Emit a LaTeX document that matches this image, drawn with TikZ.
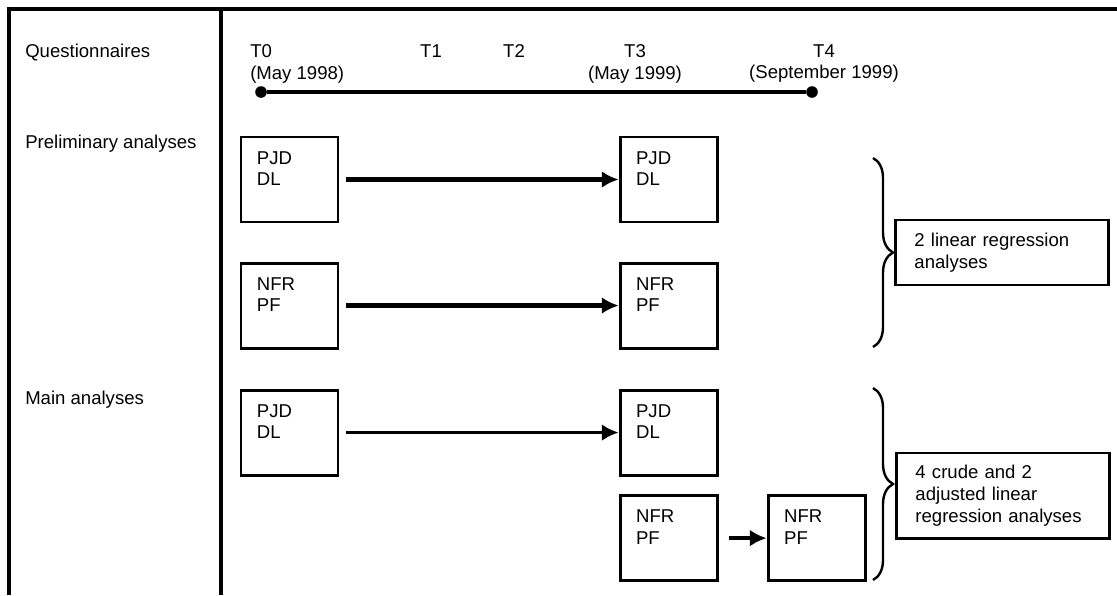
\documentclass[tikz,border=0pt]{standalone}
\usepackage{fontspec}
\setmainfont{Liberation Sans}
\usetikzlibrary{arrows.meta,decorations.pathreplacing}

\begin{document}
\begin{tikzpicture}[node distance=3.15cm, x=0.025cm, y=-0.025cm, >={Latex[length=0.42cm,width=0.42cm]}, font=\fontsize{13.2}{15.5}\selectfont]
\tikzstyle{block} = [draw, rectangle, line width=2.1pt, minimum height=2.125cm, text width=1.625cm, inner xsep=0.4cm, align=left]
\tikzstyle{result} = [draw, rectangle, line width=2.1pt, text width=4.375cm, inner xsep=0.475cm, align=left, anchor=west]
\tikzstyle{heading} = [inner sep=0, anchor=base west]
\tikzstyle{tick} = [inner sep=0, align=center]
\tikzstyle{dot} = [circle, fill, inner sep=0, minimum size=0.29cm]
\tikzstyle{frame} = [line width=2.6pt]
\tikzstyle{link} = [->, line width=3pt, shorten <=0.175cm]
\tikzstyle{curly} = [decorate, decoration={brace, amplitude=0.5cm}, line width=1.7pt]

    \useasboundingbox (0,0) rectangle (1117,595);
    % table frame
    \draw[frame] (9,595) -- (9,9) -- (1117,9);
    \draw[frame] (221,9) -- (221,595);

    % row headings
    \node[heading] (quest) at (25,57) {Questionnaires};
    \node[heading] (prelim) at (25,148) {Preliminary analyses};
    \node[heading] (mainrow) at (25,404) {Main analyses};

    % time line
    \node[tick, anchor=north west, align=left] (t0) at (250,44) {T0\\(May 1998)};
    \node[tick, anchor=base] (t1) at (431,57) {T1};
    \node[tick, anchor=base] (t2) at (514,57) {T2};
    \node[tick, anchor=north] (t3) at (635,44) {T3\\(May 1999)};
    \node[tick, anchor=north] (t4) at (824,44) {T4\\(September 1999)};
    \node[dot] (t0dot) at (261,92) {};
    \node[dot] (t4dot) at (812,92) {};
    \draw[line width=3pt] (t0dot) -- (t4dot);

    % preliminary analyses
    \node[block] (pjdA) at (289.5,179.5) {PJD\\DL\\~};
    \node[block, below of=pjdA] (nfrA) {NFR\\PF\\~};
    \node[block, right of=pjdA, node distance=9.475cm] (pjdB) {PJD\\DL\\~};
    \node[block, right of=nfrA, node distance=9.475cm] (nfrB) {NFR\\PF\\~};

    % main analyses
    \node[block, below of=nfrA, node distance=3.175cm] (pjdC) {PJD\\DL\\~};
    \node[block, right of=pjdC, node distance=9.475cm] (pjdD) {PJD\\DL\\~};
    \node[block, below of=pjdD, node distance=2.6375cm] (nfrD) {NFR\\PF\\~};
    \node[block, right of=nfrD, node distance=3.7cm] (nfrE) {NFR\\PF\\~};

    \draw[link] (pjdA) -- (pjdB);
    \draw[link] (nfrA) -- (nfrB);
    \draw[link, line width=2.3pt] (pjdC) -- (pjdD);
    \draw[link, shorten <=0.25cm] (nfrD) -- (nfrE);

    % braces and what they sum up
    \coordinate (prelimtop) at (873,158);
    \coordinate (prelimbot) at (873,347);
    \coordinate (maintop) at (873,388);
    \coordinate (mainbot) at (873,580);
    \draw[curly] (prelimtop) -- (prelimbot);
    \draw[curly] (maintop) -- (mainbot);
    \node[result, minimum height=1.625cm] (regA) at (894,252.5) {2 linear regression\\analyses};
    \node[result, minimum height=2.125cm] (regB) at (895,495.5) {4 crude and 2\\adjusted linear\\regression analyses};

\end{tikzpicture}
\end{document}
